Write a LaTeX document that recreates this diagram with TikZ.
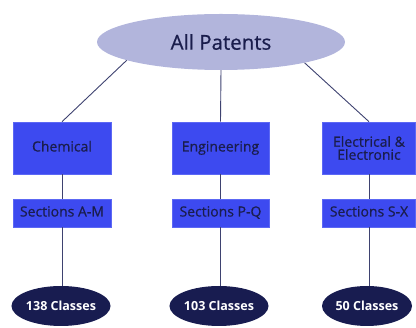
\documentclass[tikz,border=0pt]{standalone}
\usepackage{fontspec}
\setmainfont{Open Sans}
\newfontfamily\boxfont{Open Sans}[FakeBold=0.6]
\usetikzlibrary{shapes.geometric}
\definecolor{lav}{HTML}{B2B5DC}
\definecolor{bbox}{HTML}{3D4AF0}
\definecolor{bedge}{HTML}{5C68F4}
\definecolor{navy}{HTML}{181C50}
\definecolor{ink}{HTML}{1A1D4C}
\definecolor{linec}{HTML}{3E4270}
\tikzset{
  x=1pt,y=1pt,
  topell/.style={ellipse,fill=lav,minimum width=248pt,minimum height=56pt,inner sep=0pt,text=ink,font=\boxfont\fontsize{20.5}{22}\selectfont},
  catbox/.style={rectangle,fill=bbox,draw=bedge,line width=0.6pt,minimum height=52pt,inner sep=0pt,text=ink,font=\boxfont\fontsize{14}{15}\selectfont,align=center},
  secbox/.style={rectangle,fill=bbox,draw=bedge,line width=0.6pt,minimum height=28pt,inner sep=0pt,text=ink,font=\boxfont\fontsize{14}{15}\selectfont,text height=10pt,text depth=3pt},
  clsell/.style={ellipse,fill=navy,minimum height=40pt,inner sep=0pt,text=white,font=\fontsize{12.5}{14}\selectfont\bfseries},
  conn/.style={draw=linec,line width=0.9pt}
}
\begin{document}
\begin{tikzpicture}
\useasboundingbox (0,0) rectangle (416,-328);
\node[topell] (all) at (221,-42) {All Patents};
\node[catbox,minimum width=98pt,text height=10pt,text depth=3pt] (chem) at (62,-148) {Chemical};
\node[catbox,minimum width=97pt,text height=10pt,text depth=3pt] (eng) at (220.5,-148) {Engineering};
\node[catbox,minimum width=93pt] (elec) at (369,-148) {Electrical \&\\[-2pt]Electronic};
\node[secbox,minimum width=98pt] (secA) at (62,-213) {Sections A-M};
\node[secbox,minimum width=97pt] (secP) at (220.5,-213) {Sections P-Q};
\node[secbox,minimum width=93pt] (secS) at (369,-213) {Sections S-X};
\node[clsell,minimum width=98pt] (c1) at (61,-306) {138 Classes};
\node[clsell,minimum width=98pt] (c2) at (219,-306) {103 Classes};
\node[clsell,minimum width=90pt] (c3) at (367,-306) {50 Classes};
\draw[conn] (all.191) -- (chem.north);
\draw[conn] (all.south) -- (eng.north);
\draw[conn] (all.346) -- (elec.north);
\draw[conn] (chem) -- (secA);
\draw[conn] (eng) -- (secP);
\draw[conn] (elec) -- (secS);
\draw[conn] (secA.south) -- (secA.south |- c1.north);
\draw[conn] (secP.south) -- (secP.south |- c2.north);
\draw[conn] (secS.south) -- (secS.south |- c3.north);
\end{tikzpicture}
\end{document}
